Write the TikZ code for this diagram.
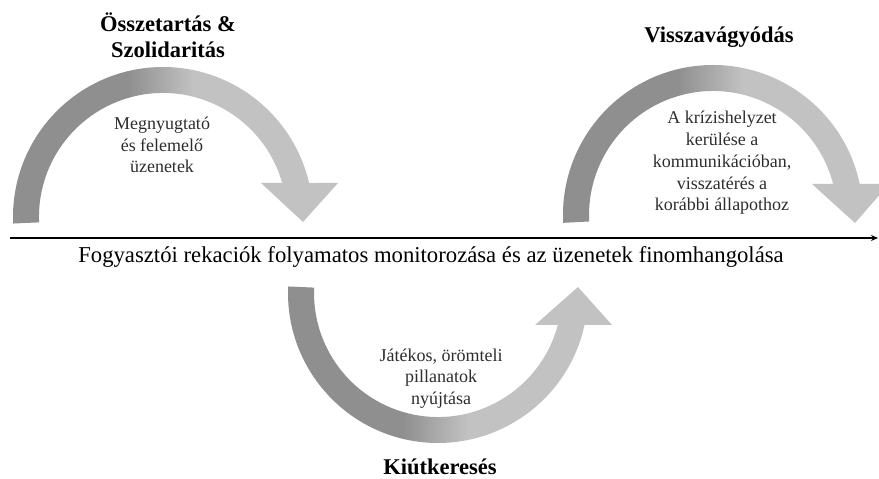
\documentclass[tikz,border=0pt]{standalone}
\usepackage{fontspec}
\setmainfont{Liberation Serif}
\usepackage{xcolor}
\usetikzlibrary{arrows.meta}
\definecolor{arcdark}{RGB}{143,143,143}
\definecolor{arclight}{RGB}{194,194,194}
\definecolor{textgray}{RGB}{45,45,45}
\pgfdeclarehorizontalshading{arcshade}{100bp}{color(0bp)=(arcdark); color(43bp)=(arcdark); color(53bp)=(arclight); color(100bp)=(arclight)}

\begin{document}
\begin{tikzpicture}[x=1pt,y=1pt]
        \tikzset{
        crc arc/.style={shading=arcshade,draw=none},
        crc title/.style={font=\bfseries\fontsize{22.5}{26}\selectfont,align=center,inner sep=0},
        crc text/.style={font=\fontsize{18}{21.7}\selectfont,align=center,inner sep=0,text=textgray},
        crc axis/.style={draw=black,line width=2.2pt,-{Stealth[length=7pt,width=6pt]}}
        }
        \useasboundingbox (0,0) rectangle (879,479);
        \coordinate (c1) at (163,262);
        \coordinate (c2) at (713,264);
        \coordinate (c3) at (438,186);
        \coordinate (axl) at (10,241);
        \coordinate (axr) at (878,241);

        \begin{scope}
        \clip (0,0) rectangle (879,479);
        \shade[crc arc] (c1) ++(182.5:150) arc[start angle=182.5,end angle=13.1,radius=150]
            -- (338,296) -- (303,257) -- (261,296) -- (282.2,296)
            arc[start angle=15.9,end angle=182.5,radius=124] -- cycle;
        \shade[crc arc] (c2) ++(183:150) arc[start angle=183,end angle=11.93,radius=150]
            -- (889,295) -- (855,256) -- (812,295) -- (833.1,295)
            arc[start angle=14.48,end angle=183,radius=124] -- cycle;
        \shade[crc arc] (c3) ++(177.5:150) arc[start angle=177.5,end angle=347.7,radius=150]
            -- (612,154) -- (578,192) -- (535,154) -- (557.8,154)
            arc[start angle=345.05,end angle=177.5,radius=124] -- cycle;
        \end{scope}

        \draw[crc axis] (axl) -- (axr);

        \node[crc title] (osszetartas) at (168,444) {Összetartás \&\\Szolidaritás};
        \node[crc title,anchor=base] (visszavagy) at (719,436) {Visszavágyódás};
        \node[crc title,anchor=base] (kiut) at (440,4) {Kiútkeresés};
        \node[crc text] (megnyugtato) at (162,334) {Megnyugtató\\és felemelő\\üzenetek};
        \node[crc text] (krizis) at (722,316) {A krízishelyzet\\kerülése a\\kommunikációban,\\visszatérés a\\korábbi állapothoz};
        \node[crc text] (jatekos) at (441,100.5) {Játékos, örömteli\\pillanatok\\nyújtása};
        \node[font=\fontsize{22.7}{26}\selectfont,inner sep=0,anchor=base] (monitor) at (431,216)
            {Fogyasztói rekaciók folyamatos monitorozása és az üzenetek finomhangolása};
    \end{tikzpicture}
\end{document}
